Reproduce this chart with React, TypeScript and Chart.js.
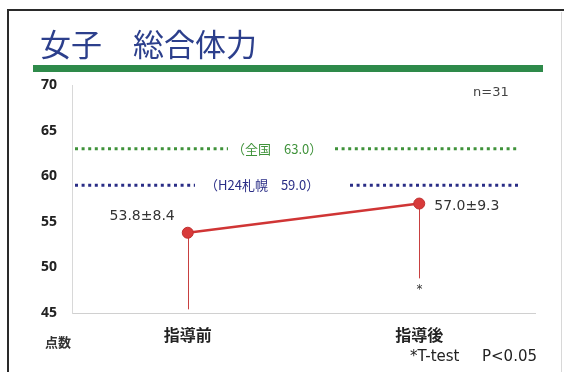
import React, { useEffect, useRef } from "react";
import { Chart, registerables } from "chart.js";
Chart.register(...registerables);

const categories = ["指導前", "指導後"];
const means = [53.8, 57.0];
const sds = [8.4, 9.3];
const meanLabels = ["53.8±8.4", "57.0±9.3"];
const significant = [false, true];
const refValues = [63.0, 59.0];
const refLabels = ["（全国　63.0）", "（H24札幌　59.0）"];
const refColors = ["#3f923a", "#2a2d86"];
const yMin = 45;
const yMax = 70;
const yStep = 5;
const titleText = "女子　総合体力";
const unitLabel = "点数";
const nLabel = "n=31";
const footnoteTest = "*T-test";
const footnoteP = "P<0.05";

const JP = "'Noto Sans CJK JP', 'Noto Sans', sans-serif";
const LAT = "'Noto Sans', 'Noto Sans CJK JP', sans-serif";
const DV = "'DejaVu Sans', 'Noto Sans CJK JP', sans-serif";

const decorPlugin = {
  id: "decor",
  beforeDraw(chart: any) {
    const { ctx, width, height } = chart;
    ctx.save();
    ctx.fillStyle = "#ffffff";
    ctx.fillRect(0, 0, width, height);
    // frame
    ctx.strokeStyle = "#2a2a2a";
    ctx.lineWidth = 2;
    ctx.beginPath();
    ctx.moveTo(8, height + 2);
    ctx.lineTo(8, 10);
    ctx.lineTo(width + 2, 10);
    ctx.stroke();
    ctx.strokeStyle = "#d8d8d8";
    ctx.lineWidth = 1;
    ctx.beginPath();
    ctx.moveTo(561.5, 12);
    ctx.lineTo(561.5, height);
    ctx.stroke();
    // title
    ctx.fillStyle = "#2c3f8c";
    ctx.font = `31px ${JP}`;
    ctx.textAlign = "left";
    ctx.textBaseline = "alphabetic";
    ctx.fillText(titleText, 40, 56);
    // green bar
    ctx.fillStyle = "#2e8a4a";
    ctx.fillRect(33, 65, 510, 7);
    ctx.restore();
  },
  beforeDatasetsDraw(chart: any) {
    const { ctx, chartArea } = chart;
    const xs = chart.scales.x;
    const ys = chart.scales.y;
    ctx.save();
    // reference dotted lines
    const segs = [
      [[3, 156], [263, 446]],
      [[3, 123], [278, 446]],
    ];
    const labelX = [160, 133];
    refValues.forEach((v, i) => {
      const y = ys.getPixelForValue(v);
      ctx.strokeStyle = refColors[i];
      ctx.lineWidth = 3;
      ctx.setLineDash([3, 3.6]);
      segs[i].forEach(([a, b]) => {
        ctx.beginPath();
        ctx.moveTo(chartArea.left + a, y);
        ctx.lineTo(chartArea.left + b, y);
        ctx.stroke();
      });
      ctx.setLineDash([]);
      ctx.fillStyle = refColors[i];
      ctx.font = `13px ${JP}`;
      ctx.textAlign = "left";
      ctx.textBaseline = "middle";
      ctx.fillText(refLabels[i], chartArea.left + labelX[i], y);
    });
    // error bars (lower only)
    ctx.strokeStyle = "#c84040";
    ctx.lineWidth = 1;
    means.forEach((m, i) => {
      const x = Math.round(xs.getPixelForValue(i)) + 0.5;
      const y0 = ys.getPixelForValue(m);
      const y1 = ys.getPixelForValue(m - sds[i]);
      ctx.beginPath();
      ctx.moveTo(x, y0);
      ctx.lineTo(x, significant[i] ? y1 - 10 : y1);
      ctx.stroke();
      if (significant[i]) {
        ctx.fillStyle = "#333";
        ctx.font = `12px ${DV}`;
        ctx.textAlign = "center";
        ctx.textBaseline = "middle";
        ctx.fillText("*", x, y1 + 1);
      }
    });
    ctx.restore();
  },
  afterDatasetsDraw(chart: any) {
    const { ctx } = chart;
    const xs = chart.scales.x;
    const ys = chart.scales.y;
    ctx.save();
    ctx.fillStyle = "#333";
    ctx.font = `14px ${DV}`;
    ctx.textBaseline = "middle";
    means.forEach((m, i) => {
      const x = xs.getPixelForValue(i);
      const y = ys.getPixelForValue(m);
      if (i === 0) {
        ctx.textAlign = "right";
        ctx.fillText(meanLabels[i], x - 13, y - 16);
      } else {
        ctx.textAlign = "left";
        ctx.fillText(meanLabels[i], x + 15, y + 3);
      }
    });
    // n label
    ctx.font = `13px ${DV}`;
    ctx.fillStyle = "#444";
    ctx.textAlign = "left";
    ctx.fillText(nLabel, 473, 93);
    // unit label
    ctx.font = `bold 13px ${JP}`;
    ctx.fillStyle = "#333";
    ctx.textAlign = "center";
    ctx.fillText(unitLabel, 58, 342);
    // footnote
    ctx.font = `15px ${DV}`;
    ctx.fillStyle = "#222";
    ctx.textAlign = "left";
    ctx.fillText(footnoteTest, 410, 357);
    ctx.fillText(footnoteP, 482, 357);
    ctx.restore();
  },
};

export default function App() {
  const ref = useRef<HTMLCanvasElement>(null);
  useEffect(() => {
    document.body.style.margin = "0";
    const chart = new Chart(ref.current!, {
      type: "line",
      data: {
        labels: categories,
        datasets: [
          {
            data: means,
            borderColor: "#d03535",
            backgroundColor: "#d03535",
            borderWidth: 2.5,
            pointRadius: 5.5,
            pointBackgroundColor: "#d83a3a",
            pointBorderColor: "#c03030",
            pointBorderWidth: 1,
            tension: 0,
          },
        ],
      },
      options: {
        animation: false,
        responsive: false,
        devicePixelRatio: 1,
        layout: { padding: { top: 85, right: 29, left: 0, bottom: 0 } },
        plugins: { legend: { display: false }, tooltip: { enabled: false } },
        scales: {
          x: {
            type: "category",
            offset: true,
            grid: { display: false, drawTicks: false },
            border: { display: true, color: "#d0d0d0", width: 1 },
            ticks: {
              padding: 12,
              color: "#222",
              font: { family: JP, size: 16, weight: "bold" },
            },
            afterFit(scale: any) {
              scale.height = 59;
            },
          },
          y: {
            min: yMin,
            max: yMax,
            grid: { display: false, drawTicks: false },
            border: { display: true, color: "#d8d8d8", width: 1 },
            ticks: {
              stepSize: yStep,
              padding: 15,
              color: "#222",
              font: { family: LAT, size: 14, weight: "bold" },
            },
            afterFit(scale: any) {
              scale.width = 72;
            },
          },
        },
      },
      plugins: [decorPlugin],
    } as any);
    return () => chart.destroy();
  }, []);
  return (
    <div style={{ position: "absolute", left: 0, top: 0, width: 564, height: 372 }}>
      <canvas ref={ref} width={564} height={372} style={{ display: "block" }} />
    </div>
  );
}
